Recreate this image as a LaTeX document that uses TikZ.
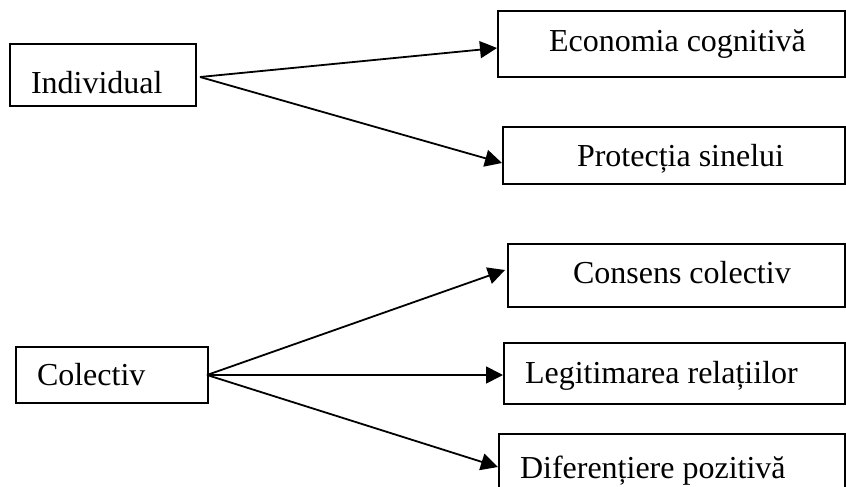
\documentclass[tikz,border=0pt]{standalone}
\usepackage{fontspec}
\setmainfont{Liberation Serif}
\usetikzlibrary{arrows.meta,calc}
\tikzset{
  box/.style={draw=black, line width=1.8pt, inner sep=0pt, outer sep=0pt},
  lbl/.style={inner sep=0pt, outer sep=0pt, anchor=base west, font=\fontsize{32}{36}\selectfont},
  arr/.style={line width=1.8pt, -{Triangle[length=17pt,width=17pt]}}
}
\begin{document}
\begin{tikzpicture}[x=1pt,y=-1pt]
\clip (0,0) rectangle (846,487);
\fill[white] (0,0) rectangle (846,487);
% boxes
\node[box, minimum width=186pt, minimum height=62pt] (ind) at (103,75) {};
\node[box, minimum width=347pt, minimum height=66pt] (eco) at (671.5,44) {};
\node[box, minimum width=342pt, minimum height=57pt] (pro) at (674,155.5) {};
\node[box, minimum width=192pt, minimum height=56pt] (col) at (112,375) {};
\node[box, minimum width=337pt, minimum height=63pt] (con) at (676.5,275.5) {};
\node[box, minimum width=341pt, minimum height=61pt] (leg) at (674.5,373.5) {};
\node[box, minimum width=346pt, minimum height=62pt] (dif) at (672,465) {};
% labels
\node[lbl] (tind) at (31,93) {Individual};
\node[lbl] (teco) at (549,52) {Economia cognitivă};
\node[lbl] (tpro) at (577,166) {Protecția sinelui};
\node[lbl] (tcol) at (37,385) {Colectiv};
\node[lbl] (tcon) at (573,283) {Consens colectiv};
\node[lbl] (tleg) at (525,383) {Legitimarea relațiilor};
\node[lbl] (tdif) at (520,478) {Diferențiere pozitivă};
% connector ends
\coordinate (is) at ($(ind.east)+(4,2)$);
\coordinate (cs) at ($(col.east)+(-1,0)$);
\coordinate (ecoT) at ($(eco.west)+(-1,4)$);
\coordinate (proT) at ($(pro.west)+(-1,7.5)$);
\coordinate (conT) at ($(con.west)+(-3,-5.5)$);
\coordinate (legT) at ($(leg.west)+(-1,1.5)$);
\coordinate (difT) at ($(dif.west)+(-1,2)$);
% arrows
\draw[arr] (is) -- (ecoT);
\draw[arr] (is) -- (proT);
\draw[arr] (cs) -- (conT);
\draw[arr] (cs) -- (legT);
\draw[arr] (cs) -- (difT);
\end{tikzpicture}
\end{document}
